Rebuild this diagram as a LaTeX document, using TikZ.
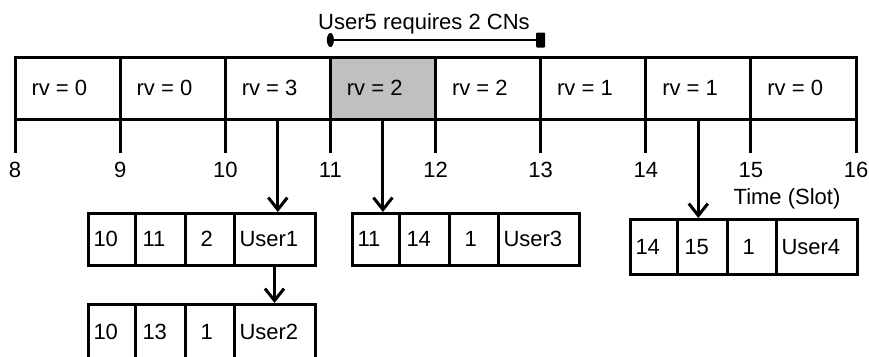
\documentclass[tikz,border=0pt]{standalone}
\usepackage{fontspec}
\setmainfont{Liberation Sans}
\usetikzlibrary{arrows.meta}
\definecolor{slotgray}{RGB}{192,192,192}

% one record: name, north-west corner, four fields, height
\newcommand\record[7]{%
  \node[cell, minimum width=47pt, minimum height=#7, anchor=north west] (#1a) at (#2) {};
  \node[cell, minimum width=50pt, minimum height=#7, anchor=north west] (#1b) at (#1a.north east) {};
  \node[cell, minimum width=49pt, minimum height=#7, anchor=north west] (#1c) at (#1b.north east) {};
  \node[cell, minimum width=81pt, minimum height=#7, anchor=north west] (#1d) at (#1c.north east) {};
  \node[lbl, anchor=west] (#1ta) at ([xshift=4pt]#1a.west) {#3};
  \node[lbl, anchor=west] (#1tb) at ([xshift=6pt]#1b.west) {#4};
  \node[lbl, anchor=west] (#1tc) at ([xshift=14pt]#1c.west) {#5};
  \node[lbl, anchor=west] (#1td) at ([xshift=4pt]#1d.west) {#6};
}

\begin{document}
\begin{tikzpicture}[x=1pt, y=-1pt, line width=3pt,
  lbl/.style={inner sep=0pt, font=\fontsize{22}{26}\selectfont, text height=15.5pt, text depth=0pt},
  slot/.style={draw, minimum width=105.125pt, minimum height=62pt, inner sep=0pt, outer sep=0pt},
  cell/.style={draw, inner sep=0pt, outer sep=0pt},
  link/.style={-{Straight Barb[length=12pt, width=19pt, line width=3pt]}, shorten >=1pt},
]
\useasboundingbox (0,0) rectangle (869,356);

% slot row with redundancy versions
\foreach \v/\f [count=\i] in {0/white,0/white,3/white,2/slotgray,2/white,1/white,1/white,0/white} {
  \node[slot, fill=\f] (r\i) at ({15+105.125*(\i-0.5)},88) {};
  \node[lbl, anchor=west] (t\i) at ([xshift=15pt]r\i.west) {rv = \v};
}

% time axis ticks and slot numbers
\foreach \n in {8,...,16} {
  \coordinate (k\n) at ({15+105.125*(\n-8)},119);
  \draw (k\n) -- ++(0,34) coordinate (e\n);
  \node[lbl, below=7pt] (n\n) at (e\n) {\n};
}
\node[lbl] (tl) at (787,197) {Time (Slot)};

% user5 span over two slots
\coordinate (bl) at ([yshift=17pt]r4.north west);
\coordinate (br) at ([yshift=17pt]r5.north east);
\draw[line width=2.4pt] (bl) -- (br);
\fill (bl) ellipse[x radius=3.5pt, y radius=7pt];
\node[fill, minimum width=9pt, minimum height=15pt, inner sep=0pt, rounded corners=1pt] (bm) at (br) {};
\node[lbl] (cn) at (424,22) {User5 requires 2 CNs};

% scheduling records
\record{u1}{88,213}{10}{11}{2}{User1}{52pt}
\record{u2}{88,304}{10}{13}{1}{User2}{55pt}
\record{u3}{352,213}{11}{14}{1}{User3}{52pt}
\record{u4}{630,219}{14}{15}{1}{User4}{55pt}

% links from slots to records
\draw[link] (r3.south) -- (r3.south |- u1a.north);
\draw[link] (r4.south) -- (r4.south |- u3a.north);
\draw[link] (r7.south) -- (r7.south |- u4a.north);
\draw[link] (u1d.south) -- (u2d.north);
\end{tikzpicture}
\end{document}
